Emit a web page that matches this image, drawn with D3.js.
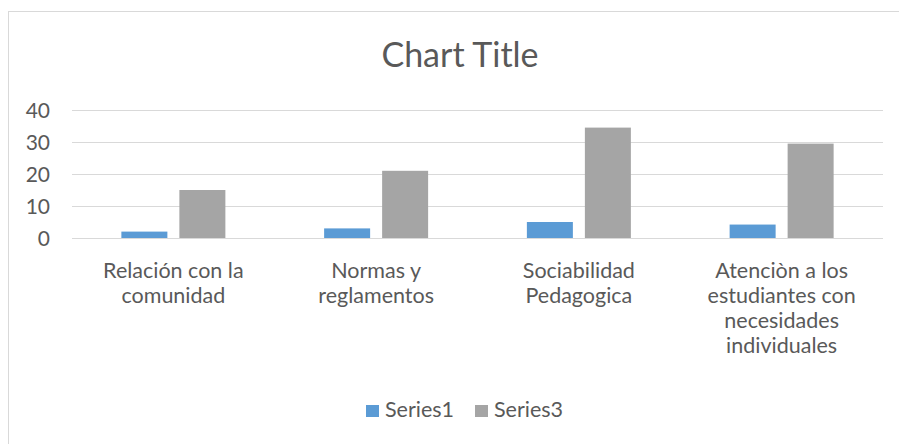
<!DOCTYPE html>
<html>
<head>
<meta charset="utf-8">
<script src="https://cdn.jsdelivr.net/npm/d3@7"></script>
<style>
  body { margin: 0; background: #fff; }
  text { font-family: Lato, "Open Sans", sans-serif; fill: #595959; }
</style>
</head>
<body>
<svg id="chart" width="899" height="444"></svg>
<script>
const categories = [
    ["Relación con la", "comunidad"],
    ["Normas y", "reglamentos"],
    ["Sociabilidad", "Pedagogica"],
    ["Atenciòn a los", "estudiantes con", "necesidades", "individuales"]
];
const seriesNames = ["Series1", "Series3"];
const series1 = [2, 3, 5, 4.2];
const series3 = [15, 21, 34.5, 29.5];
const yTicks = [0, 10, 20, 30, 40];
const colors = ["#5b9bd5", "#a5a5a5"];

const svg = d3.select("#chart");

// outer chart border
svg.append("rect")
    .attr("x", 8.5).attr("y", 11.5)
    .attr("width", 900).attr("height", 450)
    .attr("fill", "#fff").attr("stroke", "#d9d9d9");

// title
svg.append("text")
    .attr("x", 460).attr("y", 67)
    .attr("text-anchor", "middle")
    .style("font-size", "34px")
    .text("Chart Title");

const margin = { left: 72, right: 16, top: 110, bottom: 206 };
const x = d3.scaleBand()
    .domain(d3.range(categories.length))
    .range([margin.left, 899 - margin.right]);
const y = d3.scaleLinear().domain([0, 40]).range([238, 110]);

// gridlines
svg.append("g").selectAll("line")
    .data(yTicks)
    .enter().append("line")
    .attr("x1", margin.left).attr("x2", 899 - margin.right)
    .attr("y1", d => y(d) + 0.5).attr("y2", d => y(d) + 0.5)
    .attr("stroke", "#d9d9d9").attr("stroke-width", 1);

// y labels
svg.append("g").selectAll("text")
    .data(yTicks)
    .enter().append("text")
    .attr("x", 50).attr("y", d => y(d) + 8)
    .attr("text-anchor", "end")
    .style("font-size", "21px")
    .text(d => d);

// bars
const barW = 46, gap = 12;
const inner = d3.scaleBand().domain([0, 1]).range([0, barW * 2 + gap]).paddingInner(gap / (barW + gap));
const data = [series1, series3];

data.forEach((vals, si) => {
    svg.append("g").selectAll("rect")
        .data(vals)
        .enter().append("rect")
        .attr("x", (d, i) => x(i) + x.bandwidth() / 2 - (barW * 2 + gap) / 2 + inner(si))
        .attr("width", inner.bandwidth())
        .attr("y", d => y(d))
        .attr("height", d => y(0) - y(d))
        .attr("fill", colors[si]);
});

// category labels
const cat = svg.append("g").selectAll("text")
    .data(categories)
    .enter().append("text")
    .attr("text-anchor", "middle")
    .style("font-size", "21.5px");
cat.selectAll("tspan")
    .data((d, i) => d.map(t => ({ t, i })))
    .enter().append("tspan")
    .attr("x", d => x(d.i) + x.bandwidth() / 2)
    .attr("y", (d, j) => 278 + j * 25)
    .text(d => d.t);

// legend
const legendX = [366, 475];
const lg = svg.append("g").selectAll("g")
    .data(seriesNames)
    .enter().append("g")
    .attr("transform", (d, i) => "translate(" + legendX[i] + ",405)");
lg.append("rect").attr("width", 13).attr("height", 12).attr("fill", (d, i) => colors[i]);
lg.append("text").attr("x", 19).attr("y", 12).style("font-size", "21.5px").text(d => d);
</script>
</body>
</html>
